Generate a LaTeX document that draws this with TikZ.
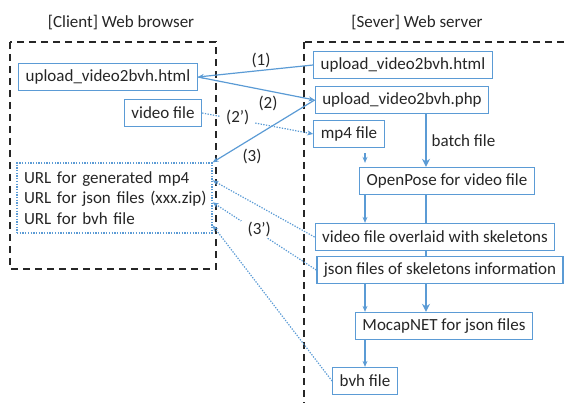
\documentclass[tikz,border=0pt]{standalone}
\usepackage{fontspec}
\setmainfont{Carlito}
\usetikzlibrary{arrows.meta, calc, backgrounds}
\definecolor{offblue}{HTML}{5B9BD5}
\definecolor{inkgray}{HTML}{262626}

\begin{document}
\begin{tikzpicture}[x=1pt, y=-1pt, font=\fontsize{17}{20.5}\selectfont, text=inkgray,
  box/.style={draw=offblue, line width=1.3pt, fill=white, minimum height=27pt, inner xsep=7pt, inner ysep=0pt},
  link/.style={draw=offblue, line width=1.2pt, -{Stealth[length=6pt,width=5pt]}},
  dotlink/.style={link, dash pattern=on 1.3pt off 1.4pt},
  fatlink/.style={draw=offblue, line width=2.6pt, -{Stealth[length=8pt,width=8pt]}},
  frame/.style={draw=inkgray, line width=1.6pt, dash pattern=on 7pt off 5pt}]
  \useasboundingbox (0,0) rectangle (569,403);

  % Frames of both sides
  \draw[frame] (10,42) rectangle (216,269);
  \begin{scope}
    \clip (0,0) rectangle (569,403);
    \draw[frame] (304,42) rectangle (620,450);
  \end{scope}
  \node at (121,23) {[Client] Web browser};
  \node at (417,23) {[Sever] Web server};

  % Client side
  \node[box] (chtml) at (108,77) {upload\_video2bvh.html};
  \node[box] (video) at (163,113) {video file};
  \node[draw=offblue, line width=1.3pt, dash pattern=on 1.3pt off 1.4pt, align=left,
    text width=189pt, inner xsep=3pt, minimum height=70pt] (url) at (114.5,198)
    {\hspace*{4pt}URL for generated mp4\\\hspace*{4pt}URL for json files (xxx.zip)\\\hspace*{4pt}URL for bvh file};

  % Server side
  \node[box] (shtml) at (403,65) {upload\_video2bvh.html};
  \node[box] (php) at (402,100) {upload\_video2bvh.php};
  \node[box] (mp4) at (349,134) {mp4 file};
  \node[box] (openpose) at (447,181) {OpenPose for video file};
  \node[box] (overlay) at (435,237) {video file overlaid with skeletons};
  \node[box] (json) at (440,270) {json files of skeletons information};
  \node[box] (mocap) at (444,326) {MocapNET for json files};
  \node[box] (bvh) at (365,381) {bvh file};

  \coordinate (bx) at (426,0);
  \coordinate (tx) at (365,0);

  % Batch flow
  \draw[fatlink] (php.south -| bx) -- (openpose.north -| bx)
    node[midway, right=1pt] {batch file};
  \begin{pgfonlayer}{background}
    \draw[fatlink] (openpose.south -| bx) -- (mocap.north -| bx);
  \end{pgfonlayer}
  \draw[link, shorten <=5pt, shorten >=4pt] (mp4.south -| tx) -- (openpose.north -| tx);
  \draw[link] (openpose.south -| tx) -- (overlay.north -| tx);
  \draw[link] (json.south -| tx) -- (mocap.north -| tx);
  \draw[link] (mocap.south -| tx) -- (bvh.north -| tx);

  % Client <-> server
  \draw[link] (shtml.west) -- (chtml.east);
  \node at (261,60) {(1)};
  \draw[link] (chtml.east) -- (php.west);
  \node at (268,103) {(2)};
  \draw[link] (php.west) -- (url.north east);
  \node at (252,156) {(3)};
  \draw[dotlink] (video.east) -- (mp4.west)
    node[pos=0.32, fill=white, inner xsep=6pt, inner ysep=1pt, yshift=2pt] {(2’)};
  \draw[dotlink] (overlay.west) -- ($(url.north east)+(0,18)$);
  \draw[dotlink] (json.west) -- ($(url.north east)+(0,40)$)
    node[pos=0.55, fill=white, inner xsep=7pt, inner ysep=1pt, yshift=3pt] {(3’)};
  \draw[dotlink] (bvh.west) -- ($(url.north east)+(0,63)$);
\end{tikzpicture}
\end{document}
